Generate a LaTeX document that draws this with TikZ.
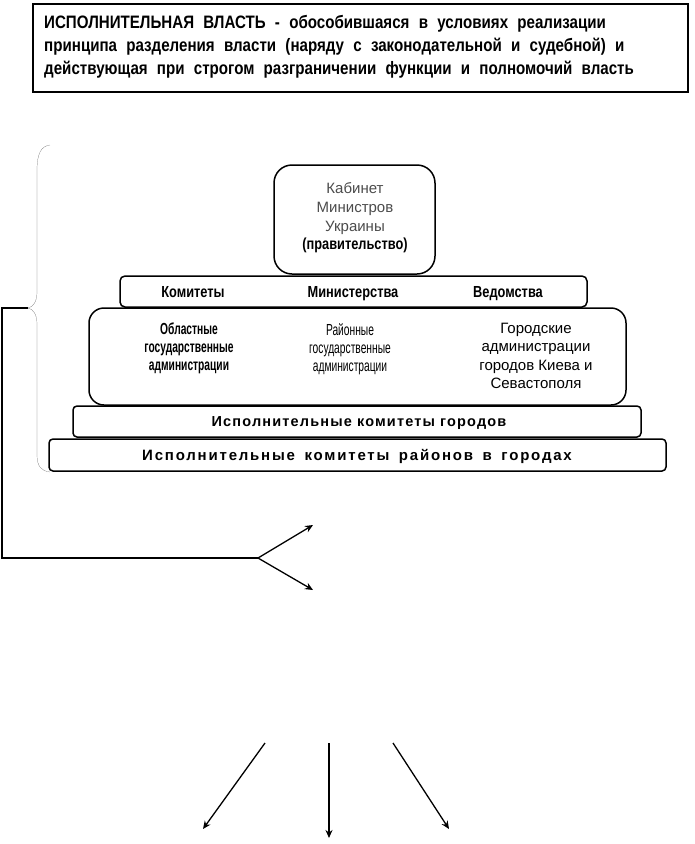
\documentclass[tikz,border=0pt]{standalone}
\usepackage{fontspec}
\setmainfont{Liberation Sans}
\newfontfamily\narrowfont[FakeStretch=0.8]{Liberation Sans}
\newfontfamily\slimfont[FakeStretch=0.64]{Liberation Sans}
\newfontfamily\defnfont[FakeStretch=0.84,WordSpace=2.2]{Liberation Sans}
\newfontfamily\citfont[LetterSpace=8]{Liberation Sans}
\newfontfamily\disfont[LetterSpace=12,WordSpace=1.6]{Liberation Sans}
\usetikzlibrary{arrows.meta,calc}

\tikzset{
    blk/.style={draw=black,line width=1.5pt,fill=white,inner sep=0pt},
    lbl/.style={inner sep=0pt,anchor=base,font=\narrowfont\bfseries\fontsize{16}{18}\selectfont},
    col/.style={inner sep=0pt,align=center,anchor=north,font=\slimfont\bfseries\fontsize{16}{18}\selectfont},
    arr/.style={line width=1.3pt,-{Stealth[length=8pt,width=7pt]}},
}

\begin{document}
\begin{tikzpicture}[x=1pt,y=-1pt]
                \useasboundingbox (0,0) rectangle (694,844);
                % definition
                \node[blk,minimum width=655pt,minimum height=88pt] (def) at (360.5,48) {};
                \node[anchor=north west,inner sep=0pt,align=left,font=\defnfont\bfseries\fontsize{18}{23}\selectfont] (deftext) at (44,15)
                    {ИСПОЛНИТЕЛЬНАЯ ВЛАСТЬ - обособившаяся в условиях реализации\\
                     принципа разделения власти (наряду с законодательной и судебной) и\\
                     действующая при строгом разграничении функции и полномочий власть};
                % pyramid
                \node[blk,rounded corners=18pt,minimum width=161pt,minimum height=109pt] (cab) at (354.5,219.5) {};
                \node[inner sep=0pt,align=center,text=black!70,font=\fontsize{15}{19}\selectfont] (cabtext) at (355,218)
                    {Кабинет\\Министров\\Украины\\[-1pt]{\narrowfont\bfseries\fontsize{16}{19}\selectfont\color{black}(правительство)}};
                \node[blk,rounded corners=5pt,minimum width=467pt,minimum height=31pt] (com) at (353.5,291.5) {};
                \foreach \x/\t/\n in {193/Комитеты/c1,353/Министерства/c2,508/Ведомства/c3}
                    \node[lbl] (\n) at (\x,297) {\t};
                \node[blk,rounded corners=15pt,minimum width=537pt,minimum height=97pt] (adm) at (357.5,356.5) {};
                \node[col] (a1) at (189,323) {Областные\\государственные\\администрации};
                \node[col,font=\slimfont\fontsize{16}{18}\selectfont] (a2) at (350,323) {Районные\\государственные\\администрации};
                \node[col,font=\fontsize{15}{18.3}\selectfont] (a3) at (536,323) {Городские\\администрации\\городов Киева и\\Севастополя};
                \node[blk,rounded corners=4pt,minimum width=568pt,minimum height=31pt] (cit) at (357,421.5) {};
                \node[inner sep=0pt,font=\citfont\bfseries\fontsize{14.5}{16}\selectfont] (cittext) at (359,423) {Исполнительные комитеты городов};
                \node[blk,rounded corners=4pt,minimum width=617pt,minimum height=32pt] (dis) at (357.5,455) {};
                \node[inner sep=0pt,font=\disfont\bfseries\fontsize{15}{16}\selectfont] (distext) at (357,456) {Исполнительные комитеты районов в городах};
                % brace
                \draw[black!60,very thin] (50,145) .. controls (41,146) and (37,154) .. (37,170) -- (37,292)
                    .. controls (37,302) and (33,307) .. (28,308) .. controls (33,309) and (37,314) .. (37,324)
                    -- (37,455) .. controls (37,466) and (41,471) .. (50,472);
                \coordinate (tip) at (28,308);
                \coordinate (crn) at (2,308);
                \coordinate (fork) at (258,558);
                \coordinate (up) at (313,525);
                \coordinate (dn) at (313,590);
                \draw[line width=1.3pt] (tip) -- (crn) |- (fork);
                \draw[arr] (fork) -- (up);
                \draw[arr] (fork) -- (dn);
                % lower arrows
                \foreach \n/\sx/\ex/\ey in {1/265/203/829,2/329/329/838,3/393/449/829}{
                    \coordinate (s\n) at (\sx,743);
                    \coordinate (e\n) at (\ex,\ey);
                    \draw[arr] (s\n) -- (e\n);
                }
            \end{tikzpicture}
\end{document}
